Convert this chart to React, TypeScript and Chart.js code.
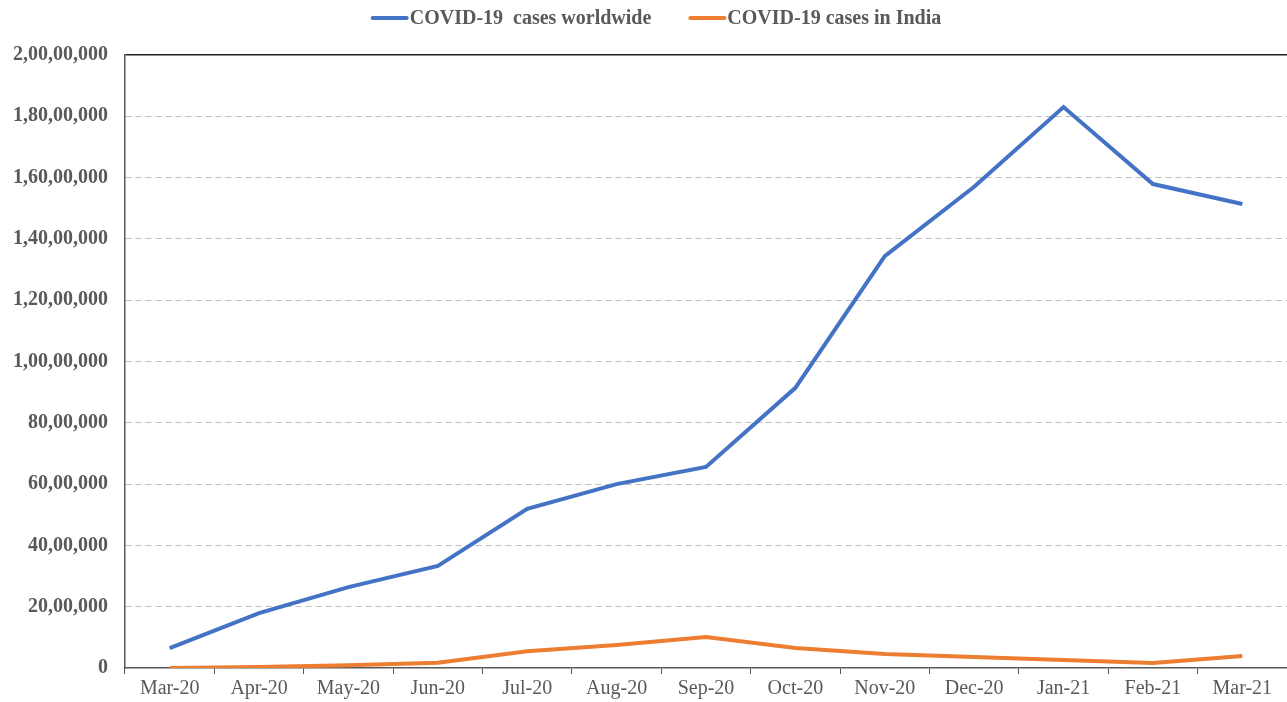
import React, { useEffect, useRef } from "react";
import { Chart, registerables } from "chart.js";

Chart.register(...registerables);

const categories = [
  "Mar-20", "Apr-20", "May-20", "Jun-20", "Jul-20", "Aug-20", "Sep-20",
  "Oct-20", "Nov-20", "Dec-20", "Jan-21", "Feb-21", "Mar-21",
];

const worldwideCases = [
  650000, 1790000, 2640000, 3330000, 5190000, 6000000, 6560000,
  9140000, 13440000, 15700000, 18300000, 15790000, 15140000,
];

const indiaCases = [
  2000, 30000, 90000, 170000, 550000, 750000, 1010000,
  650000, 460000, 360000, 260000, 160000, 390000,
];

const yMin = 0;
const yMax = 20000000;
const yStep = 2000000;

const seriesNames = ["COVID-19  cases worldwide", "COVID-19 cases in India"];
const seriesColors = ["#4472C4", "#ED7D31"];

function formatIndian(n: number): string {
  if (n === 0) return "0";
  const s = String(Math.round(n));
  if (s.length <= 3) return s;
  const last3 = s.slice(-3);
  let rest = s.slice(0, -3);
  const parts: string[] = [];
  while (rest.length > 2) {
    parts.unshift(rest.slice(-2));
    rest = rest.slice(0, -2);
  }
  if (rest) parts.unshift(rest);
  return parts.join(",") + "," + last3;
}

const FONT = "'Liberation Serif', 'Times New Roman', serif";
const TEXT = "#595959";

// Legend drawn on the canvas, Excel-style: short line, tight gap, text.
const legendPlugin = {
  id: "excelLegend",
  afterDraw(chart: any) {
    const ctx = chart.ctx as CanvasRenderingContext2D;
    const lineLen = 36;
    const lineGap = 2;
    const itemGap = 38;
    const centerY = 18;
    ctx.save();
    ctx.font = `bold 20px ${FONT}`;
    const items = chart.data.datasets.map((ds: any) => ({
      text: ds.label as string,
      color: ds.borderColor as string,
      w: ctx.measureText(ds.label).width,
    }));
    const total =
      items.reduce((a: number, it: any) => a + lineLen + lineGap + it.w, 0) +
      itemGap * (items.length - 1);
    let x = (chart.width - total) / 2 + 13;
    ctx.textBaseline = "middle";
    ctx.textAlign = "left";
    for (const it of items) {
      ctx.strokeStyle = it.color;
      ctx.lineWidth = 4;
      ctx.lineCap = "round";
      ctx.beginPath();
      ctx.moveTo(x + 1, centerY);
      ctx.lineTo(x + lineLen - 1, centerY);
      ctx.stroke();
      x += lineLen + lineGap;
      ctx.fillStyle = TEXT;
      ctx.fillText(it.text, x, centerY + 1);
      x += it.w + itemGap;
    }
    ctx.restore();
  },
};

export default function App() {
  const ref = useRef<HTMLCanvasElement | null>(null);

  useEffect(() => {
    document.body.style.margin = "0";
    if (!ref.current) return;
    const chart = new Chart(ref.current, {
      type: "line",
      data: {
        labels: categories,
        datasets: [
          {
            label: seriesNames[0],
            data: worldwideCases,
            borderColor: seriesColors[0],
            backgroundColor: seriesColors[0],
            borderWidth: 4,
            pointRadius: 0,
            tension: 0,
          },
          {
            label: seriesNames[1],
            data: indiaCases,
            borderColor: seriesColors[1],
            backgroundColor: seriesColors[1],
            borderWidth: 4,
            pointRadius: 0,
            tension: 0,
          },
        ],
      },
      options: {
        animation: false,
        responsive: true,
        maintainAspectRatio: false,
        layout: { padding: { top: 55, left: 0, right: 0, bottom: 0 } },
        plugins: {
          tooltip: { enabled: false },
          legend: { display: false },
        },
        scales: {
          x: {
            type: "category",
            offset: true,
            grid: {
              offset: true,
              drawOnChartArea: false,
              drawTicks: true,
              tickLength: 6,
              tickColor: "#595959",
              tickWidth: 1,
            },
            border: { display: true, color: "#595959", width: 1.5 },
            ticks: {
              color: TEXT,
              padding: 3,
              maxRotation: 0,
              autoSkip: false,
              font: { family: FONT, size: 20 },
            },
            afterFit: (scale: any) => {
              scale.height = 34;
            },
          },
          y: {
            min: yMin,
            max: yMax,
            ticks: {
              stepSize: yStep,
              color: TEXT,
              padding: 17,
              font: { family: FONT, size: 20, weight: "bold" },
              callback: (v: any) => formatIndian(Number(v)),
            },
            grid: {
              drawTicks: false,
              color: (ctx: any) => {
                const v = ctx.tick ? ctx.tick.value : null;
                if (v === yMax) return "#1f1f1f";
                if (v === yMin) return "rgba(0,0,0,0)";
                return "#BFBFBF";
              },
              lineWidth: (ctx: any) => (ctx.tick && ctx.tick.value === yMax ? 1.5 : 1),
            },
            border: {
              display: true,
              color: "#595959",
              width: 1.5,
              dash: (ctx: any) => (ctx.tick && ctx.tick.value === yMax ? [] : [6, 4]),
            },
            afterFit: (scale: any) => {
              scale.width = 125;
            },
          },
        },
      },
      plugins: [legendPlugin],
    });
    return () => chart.destroy();
  }, []);

  return (
    <div style={{ position: "relative", width: 1287, height: 702 }}>
      <canvas ref={ref} />
    </div>
  );
}
